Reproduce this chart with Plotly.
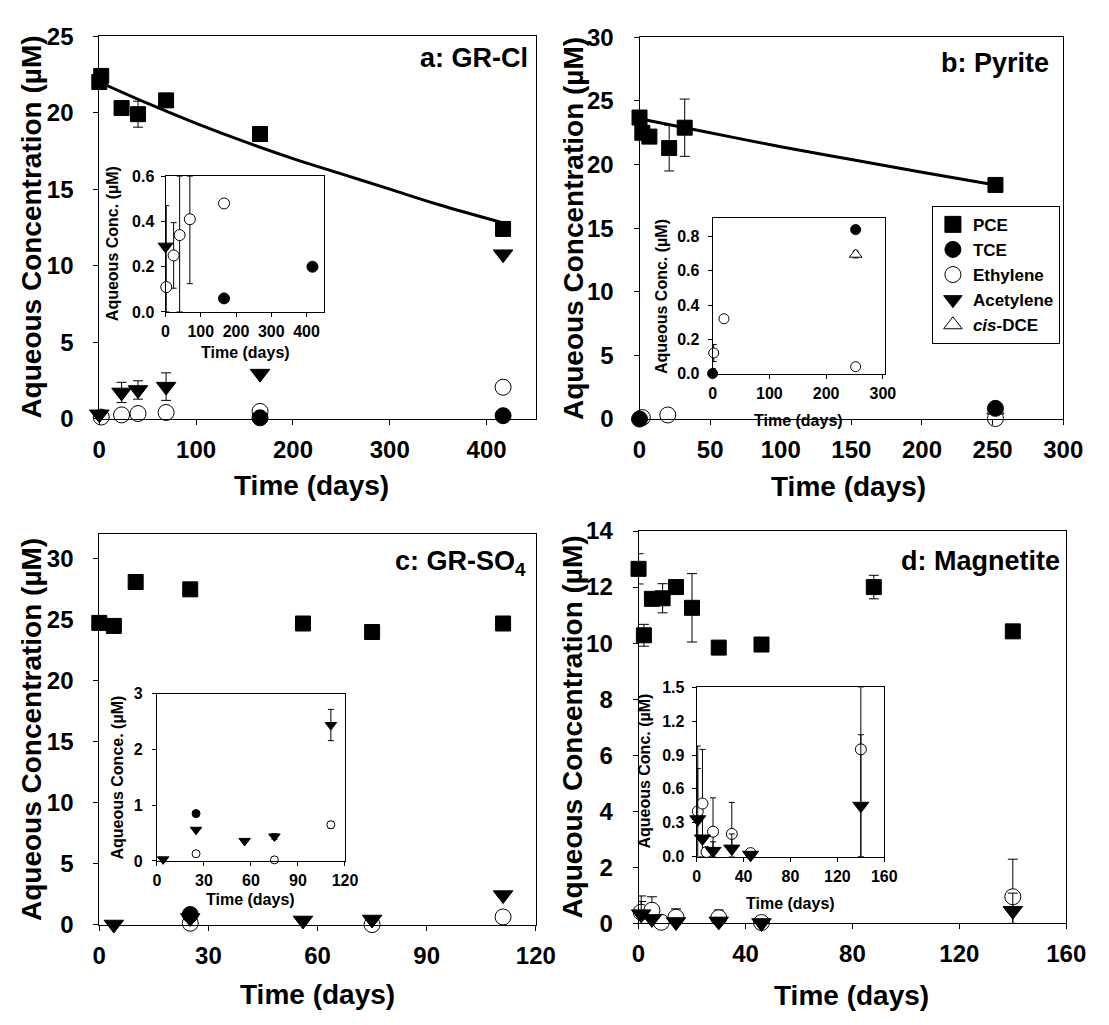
import plotly.graph_objects as go

W, H = 1109, 1025
FONT = "Liberation Sans, Arial, Helvetica, sans-serif"

# ---------------- data ----------------
# Panel a: GR-Cl
a_pce_t = [0, 2, 23, 40, 69, 166, 417]
a_pce = [22.0, 22.4, 20.3, 19.9, 20.8, 18.6, 12.4]
a_pce_err = [0, 0, 0, 0.85, 0, 0, 0]
a_fit_t = [0, 50, 100, 150, 200, 250, 300, 350, 417]
a_fit = [22.0, 20.6, 19.3, 18.1, 17.0, 16.0, 15.0, 14.0, 12.8]
a_ace_t = [0, 23, 40, 69, 166, 417]
a_ace = [0.29, 1.72, 1.88, 2.10, 2.95, 10.75]
a_ace_err = [0, 0.66, 0.60, 0.90, 0, 0]
a_eth_t = [2, 23, 40, 69, 166, 417]
a_eth = [0.11, 0.25, 0.34, 0.41, 0.48, 2.06]
a_eth_err_up = [0.36, 0.145, 0.26, 0.19, 0, 0]
a_eth_err_dn = [0.11, 0.145, 0.34, 0.285, 0, 0]
a_tce_t = [166, 417]
a_tce = [0.06, 0.20]

# Panel b: Pyrite
b_pce_t = [0, 2, 7, 21, 32, 252]
b_pce = [23.7, 22.5, 22.2, 21.3, 22.9, 18.4]
b_pce_err = [0, 0, 0, 1.8, 2.25, 0]
b_fit_t = [0, 50, 100, 150, 200, 252]
b_fit = [23.6, 22.5, 21.4, 20.4, 19.4, 18.4]
b_tce_t = [0, 252]
b_tce = [0.0, 0.84]
b_tce_err = [0.03, 0]
b_eth_t = [2, 20, 252]
b_eth = [0.12, 0.32, 0.04]
b_eth_err = [0.05, 0, 0]
b_dce_t = [252]
b_dce = [0.695]
b_dce_err = [0.02]

# Panel c: GR-SO4
c_pce_t = [0, 4, 10, 25, 56, 75, 111]
c_pce = [24.75, 24.5, 28.1, 27.5, 24.7, 24.0, 24.7]
c_ace_t = [4, 25, 56, 75, 111]
c_ace = [0.03, 0.56, 0.36, 0.44, 2.44]
c_ace_err = [0, 0, 0, 0.05, 0.28]
c_tce_t = [25]
c_tce = [0.85]
c_eth_t = [25, 75, 111]
c_eth = [0.13, 0.02, 0.65]
c_eth_err = [0, 0, 0.06]

# Panel d: Magnetite
d_pce_t = [0, 2, 5, 9, 14, 20, 30, 46, 88, 140]
d_pce = [12.65, 10.28, 11.58, 11.6, 12.0, 11.26, 9.84, 9.95, 12.0, 10.42]
d_pce_err = [0.54, 0.39, 0, 0.52, 0, 1.22, 0, 0, 0.42, 0]
d_eth_t = [1, 5, 8.5, 14, 30, 46, 140]
d_eth = [0.40, 0.47, 0.04, 0.22, 0.20, 0.03, 0.95]
d_eth_err_up = [0.58, 0.48, 0, 0.30, 0.28, 0, 1.34]
d_eth_err_dn = [0.40, 0.47, 0, 0.22, 0.20, 0, 0.95]
d_eth_err_up_inset = [0.58, 0.48, 0, 0.30, 0.28, 0, 0.55]
d_ace_t = [1, 5, 14, 30, 46, 140]
d_ace = [0.33, 0.16, 0.05, 0.07, 0.015, 0.45]
d_ace_err_up = [0.45, 0, 0.08, 0.13, 0, 0.63]
d_ace_err_dn = [0, 0, 0, 0, 0, 0.63]
d_ace_err_dn_inset = [0, 0, 0, 0, 0, 0.45]

legend_names = ["PCE", "TCE", "Ethylene", "Acetylene", "<i>cis</i>-DCE"]

# ---------------- helpers ----------------
def dx(l, r):
    return [l / W, r / W]

def dy(t, b):
    return [1 - b / H, 1 - t / H]

def make_axis(domain, rng, dtick, fsize, ticklen, standoff, anchor, tickformat=None):
    return dict(domain=domain, range=rng, dtick=dtick, tick0=0, ticks="outside",
                ticklen=ticklen, tickwidth=1, tickcolor="black", showline=True,
                linecolor="black", linewidth=1, mirror=True, showgrid=False,
                zeroline=False, anchor=anchor, tickformat=tickformat,
                ticklabelstandoff=standoff, fixedrange=True,
                tickfont=dict(family=FONT, size=fsize, color="black", weight="bold"))

fig = go.Figure()

SYM = {
    "pce": ("square", "black"),
    "tce": ("circle", "black"),
    "eth": ("circle", "white"),
    "ace": ("triangle-down", "black"),
    "dce": ("triangle-up", "white"),
}

def markers(x, y, xa, ya, kind, size):
    sym, col = SYM[kind]
    fig.add_trace(go.Scatter(x=x, y=y, xaxis=xa, yaxis=ya, mode="markers",
                             marker=dict(symbol=sym, size=size, color=col,
                                         line=dict(color="black", width=1)),
                             cliponaxis=False, showlegend=False, hoverinfo="skip"))

def errs(x, y, xa, ya, up, dn, cap):
    fig.add_trace(go.Scatter(x=x, y=y, xaxis=xa, yaxis=ya, mode="markers",
                             marker=dict(size=1, opacity=0),
                             error_y=dict(type="data", array=up, arrayminus=dn,
                                          symmetric=False, color="black",
                                          thickness=1, width=cap),
                             showlegend=False, hoverinfo="skip"))

def fitline(x, y, xa, ya):
    fig.add_trace(go.Scatter(x=x, y=y, xaxis=xa, yaxis=ya, mode="lines",
                             line=dict(color="black", width=3, shape="spline"),
                             showlegend=False, hoverinfo="skip"))

TRI = 17
# ---------------- panel a ----------------
fitline(a_fit_t, a_fit, "x", "y")
errs(a_pce_t, a_pce, "x", "y", a_pce_err, a_pce_err, 5)
markers(a_pce_t, a_pce, "x", "y", "pce", 15)
errs(a_eth_t, a_eth, "x", "y", a_eth_err_up, a_eth_err_dn, 5)
markers(a_eth_t, a_eth, "x", "y", "eth", 16)
markers(a_tce_t, a_tce, "x", "y", "tce", 16)
errs(a_ace_t, a_ace, "x", "y", a_ace_err, a_ace_err, 5)
markers(a_ace_t, a_ace, "x", "y", "ace", TRI)
# inset a
errs(a_eth_t, a_eth, "x5", "y5", a_eth_err_up, a_eth_err_dn, 3)
markers(a_eth_t, a_eth, "x5", "y5", "eth", 11)
markers(a_tce_t, a_tce, "x5", "y5", "tce", 11)
markers(a_ace_t, a_ace, "x5", "y5", "ace", 13)

# ---------------- panel b ----------------
fitline(b_fit_t, b_fit, "x2", "y2")
errs(b_pce_t, b_pce, "x2", "y2", b_pce_err, b_pce_err, 5)
markers(b_pce_t, b_pce, "x2", "y2", "pce", 15)
markers(b_eth_t, b_eth, "x2", "y2", "eth", 16)
markers(b_dce_t, b_dce, "x2", "y2", "dce", 15)
markers(b_tce_t, b_tce, "x2", "y2", "tce", 16)
# inset b
errs(b_eth_t, b_eth, "x6", "y6", b_eth_err, b_eth_err, 3)
markers(b_eth_t, b_eth, "x6", "y6", "eth", 10)
errs(b_dce_t, b_dce, "x6", "y6", b_dce_err, b_dce_err, 3)
markers(b_dce_t, b_dce, "x6", "y6", "dce", 11)
errs(b_tce_t, b_tce, "x6", "y6", b_tce_err, b_tce_err, 3)
markers(b_tce_t, b_tce, "x6", "y6", "tce", 10)

# ---------------- panel c ----------------
markers(c_pce_t, c_pce, "x3", "y3", "pce", 15)
markers(c_eth_t, c_eth, "x3", "y3", "eth", 16)
markers(c_tce_t, c_tce, "x3", "y3", "tce", 16)
markers(c_ace_t, c_ace, "x3", "y3", "ace", TRI)
# inset c
errs(c_eth_t, c_eth, "x7", "y7", c_eth_err, c_eth_err, 3)
markers(c_eth_t, c_eth, "x7", "y7", "eth", 8)
markers(c_tce_t, c_tce, "x7", "y7", "tce", 8)
errs(c_ace_t, c_ace, "x7", "y7", c_ace_err, c_ace_err, 3)
markers(c_ace_t, c_ace, "x7", "y7", "ace", 10)

# ---------------- panel d ----------------
errs(d_pce_t, d_pce, "x4", "y4", d_pce_err, d_pce_err, 5)
markers(d_pce_t, d_pce, "x4", "y4", "pce", 15)
errs(d_eth_t, d_eth, "x4", "y4", d_eth_err_up, d_eth_err_dn, 5)
markers(d_eth_t, d_eth, "x4", "y4", "eth", 16)
errs(d_ace_t, d_ace, "x4", "y4", d_ace_err_up, d_ace_err_dn, 5)
markers(d_ace_t, d_ace, "x4", "y4", "ace", TRI)
# inset d
errs(d_eth_t, d_eth, "x8", "y8", d_eth_err_up_inset, d_eth_err_dn, 3)
markers(d_eth_t, d_eth, "x8", "y8", "eth", 11)
errs(d_ace_t, d_ace, "x8", "y8", d_ace_err_up, d_ace_err_dn_inset, 3)
markers(d_ace_t, d_ace, "x8", "y8", "ace", 14)

# ---------------- legend entries (panel b) ----------------
legend_kinds = ["pce", "tce", "eth", "ace", "dce"]
for rank, (nm, kd) in enumerate(zip(legend_names, legend_kinds)):
    sym, col = SYM[kd]
    fig.add_trace(go.Scatter(x=[None], y=[None], xaxis="x2", yaxis="y2", mode="markers",
                             name=nm, legendrank=rank + 1, showlegend=True,
                             marker=dict(symbol=sym, size=16, color=col,
                                         line=dict(color="black", width=1))))

# ---------------- axes ----------------
layout_axes = dict(
    xaxis=make_axis(dx(94.6, 541.9), [0, 450.7], 100, 24, 5, 4, "y"),
    yaxis=make_axis(dy(22.7, 415.7), [0, 25], 5, 24, 5, 15, "x"),
    xaxis2=make_axis(dx(648.3, 1082.6), [0, 300], 50, 24, 5, 4, "y2"),
    yaxis2=make_axis(dy(24, 416), [0, 30], 5, 24, 5, 15, "x2"),
    xaxis3=make_axis(dx(94.6, 542.0), [0, 120], 30, 24, 5, 4, "y3"),
    yaxis3=make_axis(dy(534.5, 935.5), [0, 32], 5, 24, 5, 15, "x3"),
    xaxis4=make_axis(dx(647.3, 1085.7), [0, 160], 40, 24, 5, 4, "y4"),
    yaxis4=make_axis(dy(531, 934), [0, 14], 2, 24, 5, 15, "x4"),
    xaxis5=make_axis(dx(162.5, 325.0), [0, 450], 100, 16, 4, 1, "y5"),
    yaxis5=make_axis(dy(166.7, 306.0), [0, 0.6], 0.2, 16, 4, 3, "x5", ".1f"),
    xaxis6=make_axis(dx(723.2, 899.5), [0, 303], 100, 16, 4, 1, "y6"),
    yaxis6=make_axis(dy(210.0, 369.3), [0, 0.905], 0.2, 16, 4, 5, "x6", ".1f"),
    xaxis7=make_axis(dx(153.6, 346.4), [0, 120], 30, 16, 4, 1, "y7"),
    yaxis7=make_axis(dy(698.2, 869.9), [0, 3], 1, 16, 4, 6, "x7", "d"),
    xaxis8=make_axis(dx(706.8, 899.2), [0, 160], 40, 16, 4, 1, "y8"),
    yaxis8=make_axis(dy(691.6, 865.3), [0, 1.5], 0.3, 16, 4, 4, "x8", ".1f"),
)

# ---------------- annotations (titles, panel labels) ----------------
def ann(text, xpx, ypx, size, angle=0, xanchor="center", yanchor="middle"):
    return dict(text=text, x=xpx / W, y=1 - ypx / H, xref="paper", yref="paper",
                showarrow=False, textangle=angle, xanchor=xanchor, yanchor=yanchor,
                font=dict(family=FONT, size=size, color="black", weight="bold"))

YT = "Aqueous Concentration (\u00b5M)"
XT = "Time (days)"
annotations = [
    # main axis titles
    ann(YT, 25, 219, 28, -90), ann(YT, 580, 220, 28, -90),
    ann(YT, 25, 735, 28, -90), ann(YT, 580, 732, 28, -90),
    ann(XT, 312, 484, 28), ann(XT, 863, 485, 28),
    ann(XT, 318, 1007, 28), ann(XT, 866, 1008, 28),
    # panel labels
    ann("a: GR-Cl", 536, 45, 27, xanchor="right"),
    ann("b: Pyrite", 1070, 50, 27, xanchor="right"),
    ann("c: GR-SO<sub>4</sub>", 534, 564, 27, xanchor="right"),
    ann("d: Magnetite", 1081, 562, 27, xanchor="right"),
    # inset titles
    ann("Aqueous Conc. (\u00b5M)", 108, 236, 16, -90), ann(XT, 244, 348, 16),
    ann("Aqueous Conc. (\u00b5M)", 671, 290, 16, -90), ann(XT, 811, 417, 16),
    ann("Aqueous Conce. (\u00b5M)", 113, 784, 16, -90), ann(XT, 250, 909, 16),
    ann("Aqueous Conc. (\u00b5M)", 653, 778, 16, -90), ann(XT, 803, 914, 16),
]

fig.update_layout(
    width=W, height=H, autosize=False,
    margin=dict(l=0, r=0, t=0, b=0, pad=0),
    paper_bgcolor="white", plot_bgcolor="white",
    showlegend=True,
    legend=dict(x=948 / W, y=1 - 197 / H, xanchor="left", yanchor="top",
                bordercolor="black", borderwidth=1, bgcolor="white",
                font=dict(family=FONT, size=17, color="black", weight="bold"),
                itemsizing="trace", tracegroupgap=0),
    annotations=annotations,
    **layout_axes,
)

fig.write_html("out.html")
